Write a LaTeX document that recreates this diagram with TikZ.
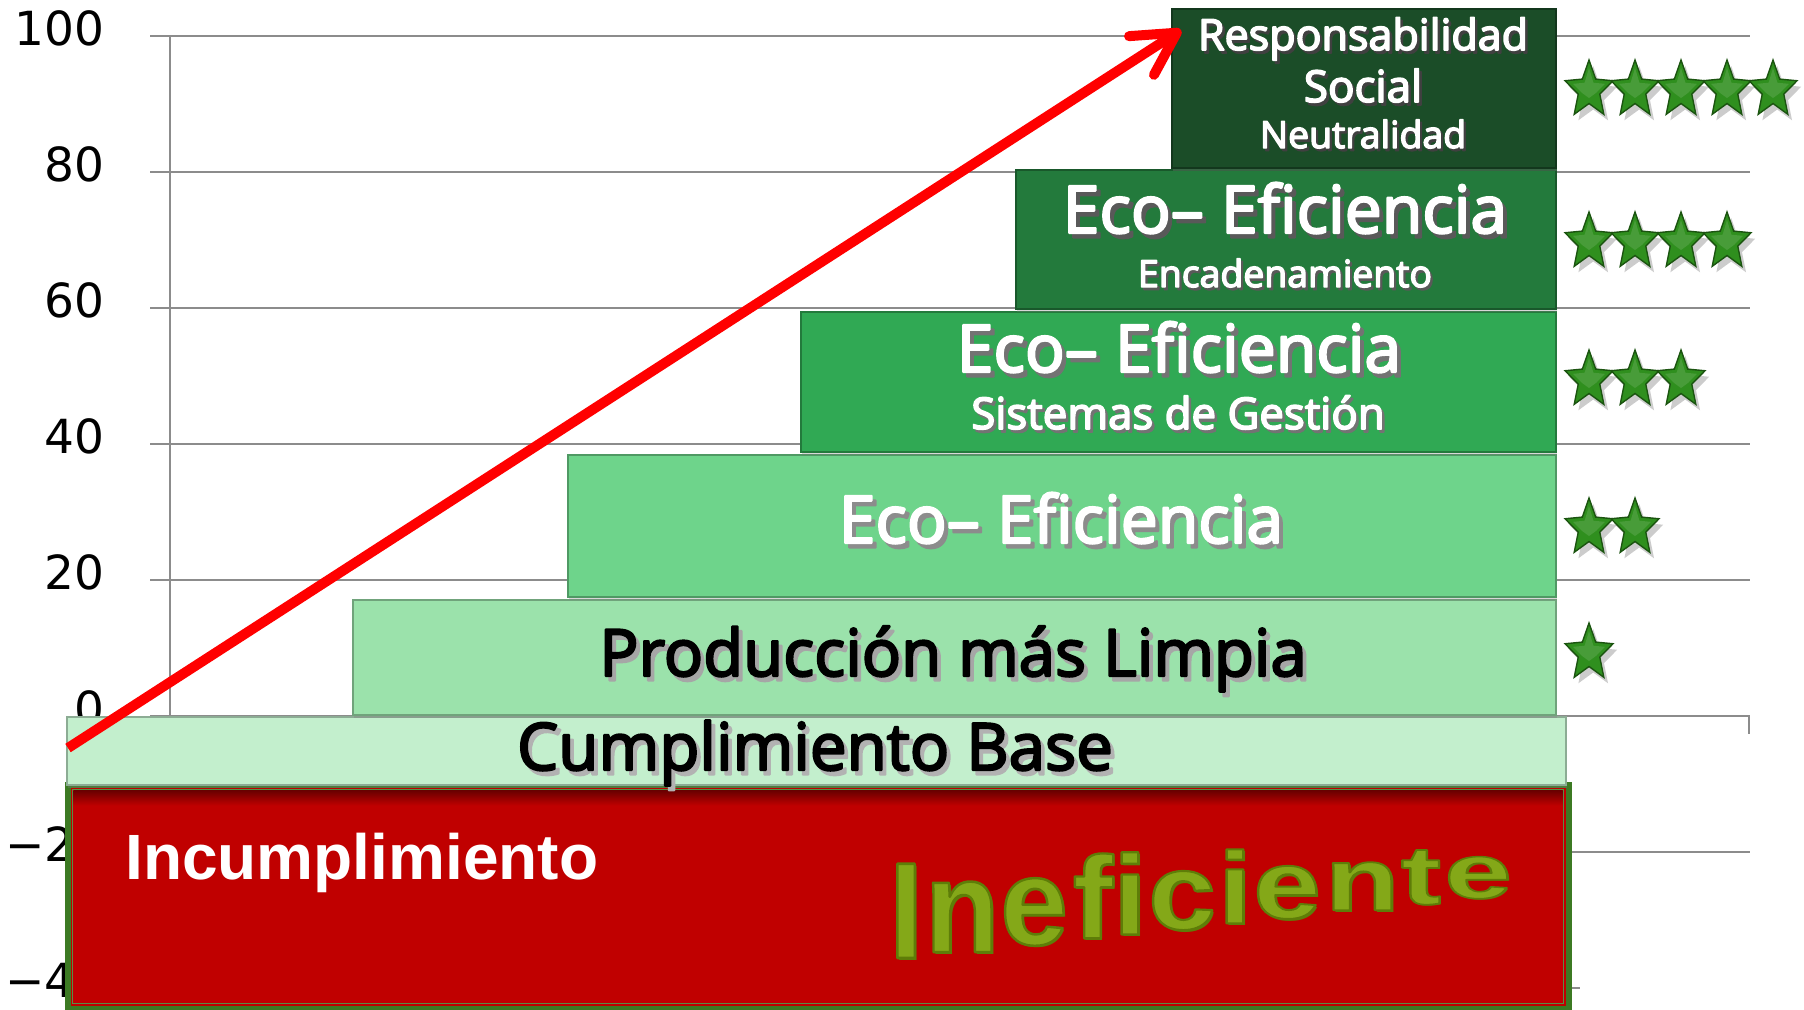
\documentclass[tikz,border=0pt]{standalone}
\usepackage{fontspec}
\usepackage{graphicx}
\usetikzlibrary{arrows.meta,shadows}
\newfontfamily\osf{Open Sans}
\newfontfamily\lsf{Liberation Sans}
\newfontfamily\dvs{DejaVu Sans}
\newcommand\fsz[1]{\fontsize{#1}{#1}\selectfont}
\definecolor{respc}{HTML}{1B4D28}
\definecolor{encadc}{HTML}{237A3C}
\definecolor{sistc}{HTML}{30A954}
\definecolor{ecoc}{HTML}{6ED48B}
\definecolor{prodc}{HTML}{9BE2AB}
\definecolor{cumplc}{HTML}{C3EFCD}
\definecolor{redc}{HTML}{C00000}
\definecolor{redgreen}{HTML}{3C7A23}
\definecolor{starg}{HTML}{2F8F1E}
\definecolor{stard}{HTML}{1B5410}
\definecolor{gridc}{HTML}{8C8C8C}
\definecolor{inefc}{HTML}{84A818}
\definecolor{inefd}{HTML}{5E7D08}
\definecolor{arrowred}{HTML}{FF0000}
% text drawn filled and stroked (semibold look): #1 stroke width (bp), #2 text
\newcommand\sbold[2]{\special{pdf:literal direct #1 w 1 j 2 Tr}#2\special{pdf:literal direct 0 Tr}}
% outlined text: #1 stroke rgb, #2 width, #3 text
\newcommand\obold[3]{\special{pdf:literal direct #1 RG #2 w 1 j 2 Tr}#3\special{pdf:literal direct 0 Tr}}
% semibold text with a soft drop shadow: #1 shadow colour, #2 stroke width, #3 text
\newcommand\sbtext[3]{%
  \rlap{\kern0.06em\raisebox{-0.07em}{\textcolor{#1}{\sbold{#2}{#3}}}}\sbold{#2}{#3}}
% name, x, y, style, shadow colour, stroke width, text
\newcommand\stext[7]{%
  \node[#4] (#1) at (#2,#3) {\sbtext{#5}{#6}{#7}};}
\begin{document}
\begin{tikzpicture}[x=0.5pt,y=-0.5pt,
  gridline/.style={draw=gridc, line width=1pt},
  axlab/.style={anchor=base east, inner sep=0, font=\dvs\fsz{23.5}, text=black},
  boxs/.style={anchor=north west, inner sep=0, fill=#1, draw=#1!72!black, line width=0.8pt,
     drop shadow={opacity=0.3, shadow xshift=0.8pt, shadow yshift=-1.5pt}},
  wt/.style={anchor=base, inner sep=0, text=white},
  bt/.style={anchor=base, inner sep=0, text=black},
  ineftxt/.style={anchor=base, inner sep=0, text=inefc, font=\lsf\bfseries\fsz{60.5}},
  redarrow/.style={draw=arrowred, line width=5pt, -{Straight Barb[round,length=21pt,width=23pt]}},
  gstar/.pic={
    \begin{scope}[xscale=0.84]
      \fill[black, opacity=0.2, shift={(5,6)}] (270:30) -- (306:13.5) -- (342:30) -- (18:13.5) -- (54:30) -- (90:13.5) -- (126:30) -- (162:13.5) -- (198:30) -- (234:13.5) -- cycle;
      \filldraw[fill=starg, draw=stard, line width=0.7pt, line join=miter] (270:30) -- (306:13.5) -- (342:30) -- (18:13.5) -- (54:30) -- (90:13.5) -- (126:30) -- (162:13.5) -- (198:30) -- (234:13.5) -- cycle;
      \fill[white, opacity=0.12] (270:22) -- (306:9) -- (342:20) -- (18:9) -- (90:8) -- (162:9) -- (198:20) -- (234:9) -- cycle;
    \end{scope}
  }]
\useasboundingbox (0,0) rectangle (1804,1009);
\fill[white] (0,0) rectangle (1804,1009);

% grid and axis
\foreach \yy in {36,172,308,444,580,716,852}
  \draw[gridline] (150,\yy) -- (1750,\yy);
\draw[gridline] (150,988) -- (1580,988);
\draw[gridline] (170,36) -- (170,716);
\draw[gridline] (1749,716) -- (1749,734);

% axis labels
\foreach \v/\yy [count=\i] in {100/36,80/172,60/308,40/444,20/580,0/716,−20/852,−40/988}
  \node[axlab] (lab\i) at (105,\yy+9.5) {\v};

% boxes
\node[boxs=redc, draw=redgreen, line width=3pt, minimum width=750.5pt, minimum height=112pt] (red) at (64.5,781.5) {};
\draw[redgreen!85!white, line width=0.8pt] ([shift={(8,8)}]red.north west) rectangle ([shift={(-8,-8)}]red.south east);
\shade[top color=redc!55!black, bottom color=redc] ([shift={(9,9)}]red.north west) rectangle ([shift={(-9,24)}]red.north east);
\node[boxs=cumplc, minimum width=749.5pt, minimum height=34pt] (cumpl) at (66,716) {};
\node[boxs=prodc, minimum width=601.5pt, minimum height=57.5pt] (prod) at (352,599) {};
\node[boxs=ecoc, minimum width=494pt, minimum height=71pt] (ecoef) at (567,454) {};
\node[boxs=sistc, minimum width=377.5pt, minimum height=70pt] (sist) at (800,311) {};
\node[boxs=encadc, minimum width=270pt, minimum height=69.5pt] (encad) at (1015,169) {};
\node[boxs=respc, minimum width=192pt, minimum height=79.5pt] (resp) at (1171,8) {};

% texts
\stext{r1}{1363}{50}{wt, font=\osf\fsz{21.5}}{black!75}{0.8}{Responsabilidad}
\stext{r2}{1363}{102}{wt, font=\osf\fsz{22}}{black!75}{0.8}{Social}
\stext{r3}{1363}{148}{wt, font=\osf\fsz{18.7}}{black!75}{0.7}{Neutralidad}
\stext{e1}{1285}{233}{wt, font=\osf\fsz{33}}{black!65}{1.1}{Eco– Eficiencia}
\stext{e2}{1285}{287}{wt, font=\osf\fsz{18.7}}{black!65}{0.7}{Encadenamiento}
\stext{s1}{1179}{372}{wt, font=\osf\fsz{33}}{black!55}{1.1}{Eco– Eficiencia}
\stext{s2}{1178}{429}{wt, font=\osf\fsz{21.9}}{black!55}{0.8}{Sistemas de Gestión}
\stext{f1}{1061}{543}{wt, font=\osf\fsz{33}}{black!45}{1.1}{Eco– Eficiencia}
\stext{p1}{953}{676}{bt, font=\osf\fsz{32.6}}{black!35}{1.1}{Producción más Limpia}
\stext{c1}{815}{770}{bt, font=\osf\fsz{32.7}}{black!30}{1.1}{Cumplimiento Base}
\node[anchor=base west, inner sep=0, text=white, font=\lsf\bfseries\fsz{32}] (inc) at (125,879) {Incumplimiento};

% Ineficiente (tapering perspective)
\foreach \ch/\cx [count=\i] in {I/906,n/962,e/1034,f/1093,i/1130,c/1182,i/1235,e/1287,n/1362,t/1421,e/1478}{
  \pgfmathsetmacro\yb{958-0.105*(\cx-906)}
  \pgfmathsetmacro\sc{(98-0.0752*(\cx-906))/86.6}
  \node[ineftxt] (inef\i) at (\cx,\yb)
    {\rlap{\kern1pt\raisebox{-1pt}{\textcolor{inefd}{\scalebox{1}[\sc]{\ch}}}}\scalebox{1}[\sc]{\obold{0.37 0.49 0.03}{1.2}{\ch}}};
}

% stars
\foreach \k in {0,...,4} \pic at (1589+46*\k,90) {gstar};
\foreach \k in {0,...,3} \pic at (1589+46*\k,242) {gstar};
\foreach \k in {0,...,2} \pic at (1589+46*\k,380) {gstar};
\foreach \k in {0,...,1} \pic at (1589+46*\k,528) {gstar};
\pic at (1589,653) {gstar};

% arrow
\coordinate (astart) at (68,748);
\coordinate (atip) at (1181,30);
\draw[redarrow] (astart) -- (atip);
\end{tikzpicture}
\end{document}
